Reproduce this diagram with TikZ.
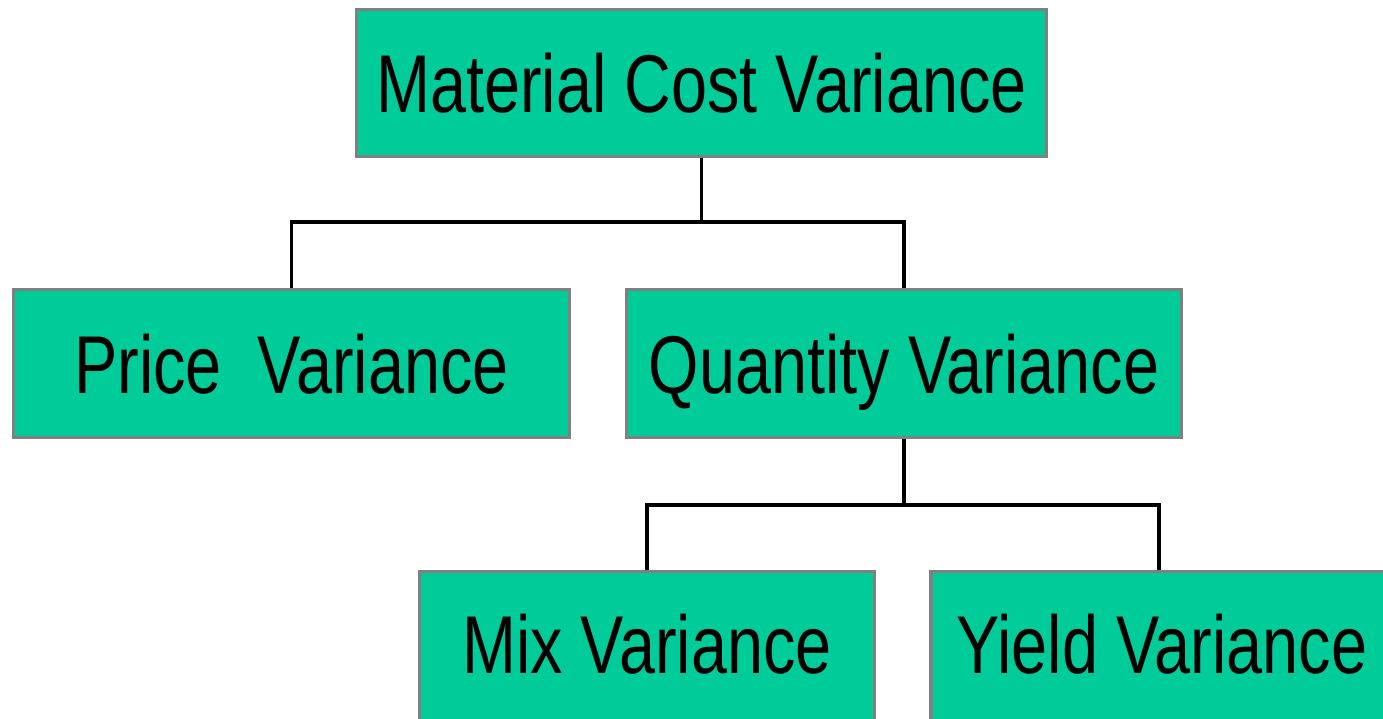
\documentclass[tikz,border=0pt]{standalone}
\usepackage{fontspec}
\setmainfont[FakeStretch=0.79]{Liberation Sans}
\definecolor{boxfill}{HTML}{00CC99}
\definecolor{boxline}{HTML}{808080}
\begin{document}
\begin{tikzpicture}[x=1pt,y=1pt,
  vbox/.style={draw=boxline, fill=boxfill, line width=3.5pt, inner sep=0pt,
    text height=59pt, text depth=0pt, font=\fontsize{82}{90}\selectfont},
  link/.style={draw=black, line width=3.5pt, line join=miter}]
\useasboundingbox (0,0) rectangle (1383,-718);
\node[vbox, minimum width=690pt, minimum height=147pt] (mcv) at (701.5,-83) {Material Cost Variance};
\node[vbox, minimum width=556pt, minimum height=148pt] (pv) at (291.5,-363.5) {Price\ \ Variance};
\node[vbox, minimum width=555pt, minimum height=148pt] (qv) at (904,-363.5) {Quantity Variance};
\node[vbox, text depth=8pt, minimum width=455pt, minimum height=153pt] (mv) at (647,-648) {Mix Variance};
\node[vbox, text depth=8pt, minimum width=462pt, minimum height=153pt] (yv) at (1162,-648) {Yield Variance};
\coordinate (j1) at (mcv.south |- 0,-222);
\coordinate (j2) at (qv.south |- 0,-505);
\coordinate (yt) at (1159,-570);
\path[link] (mcv.south) -- (j1);
\path[link] (pv.north) |- (j1) -| (qv.north);
\path[link] (qv.south) -- (j2);
\path[link] (mv.north) |- (j2) -| (yt);
\end{tikzpicture}
\end{document}
